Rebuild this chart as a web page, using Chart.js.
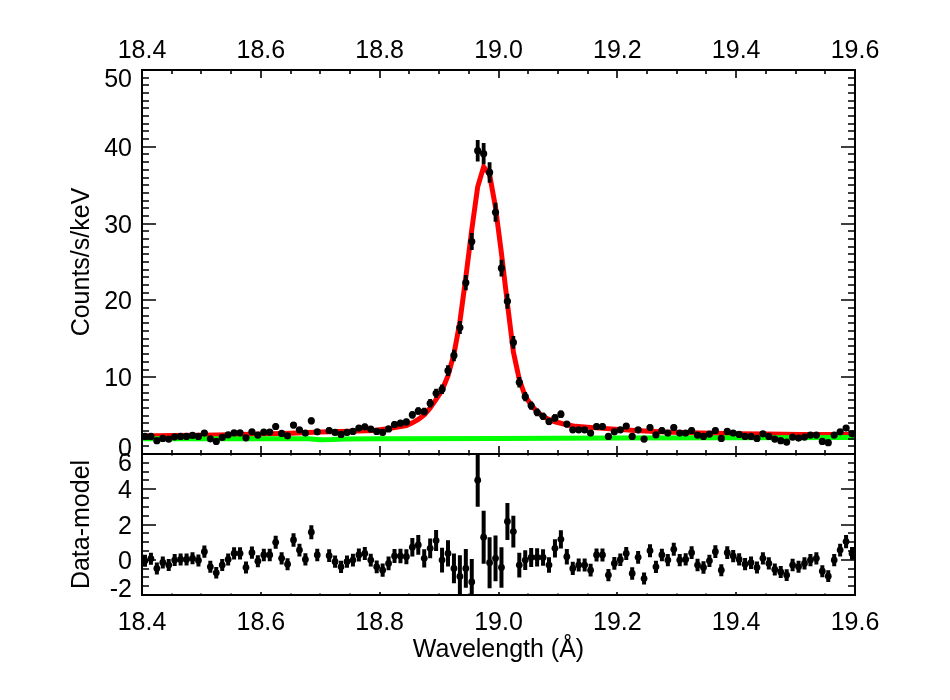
<!DOCTYPE html>
<html>
<head>
<meta charset="utf-8">
<script src="https://cdn.jsdelivr.net/npm/chart.js@4.4.1/dist/chart.umd.min.js"></script>
<style>
    body { margin: 0; background: #fff; }
    #wrap { position: relative; width: 950px; height: 700px; }
    #wrap canvas { position: absolute; left: 0; top: 0; }
</style>
</head>
<body>
<div id="wrap">
    <canvas id="residChart" width="950" height="700"></canvas>
    <canvas id="specChart" width="950" height="700"></canvas>
</div>
<script>
// Bin centres (Angstrom)
const wave = [
    18.405, 18.415, 18.425, 18.435, 18.445, 18.455, 18.465, 18.475, 18.485, 18.495,
    18.505, 18.515, 18.525, 18.535, 18.545, 18.555, 18.565, 18.575, 18.585, 18.595,
    18.605, 18.615, 18.625, 18.635, 18.645, 18.655, 18.665, 18.675, 18.685, 18.695,
    18.705, 18.715, 18.725, 18.735, 18.745, 18.755, 18.765, 18.775, 18.785, 18.795,
    18.805, 18.815, 18.825, 18.835, 18.845, 18.855, 18.865, 18.875, 18.885, 18.895,
    18.905, 18.915, 18.925, 18.935, 18.945, 18.955, 18.965, 18.975, 18.985, 18.995,
    19.005, 19.015, 19.025, 19.035, 19.045, 19.055, 19.065, 19.075, 19.085, 19.095,
    19.105, 19.115, 19.125, 19.135, 19.145, 19.155, 19.165, 19.175, 19.185, 19.195,
    19.205, 19.215, 19.225, 19.235, 19.245, 19.255, 19.265, 19.275, 19.285, 19.295,
    19.305, 19.315, 19.325, 19.335, 19.345, 19.355, 19.365, 19.375, 19.385, 19.395,
    19.405, 19.415, 19.425, 19.435, 19.445, 19.455, 19.465, 19.475, 19.485, 19.495,
    19.505, 19.515, 19.525, 19.535, 19.545, 19.555, 19.565, 19.575, 19.585, 19.595
];

// Observed spectrum (counts/s/keV), one bin is empty
const flux = [
    2.29, 2.29, 1.73, 2.03, 1.94, 2.24, 2.29, 2.29, 2.42, 2.29,
    2.72, 1.98, 1.64, 2.16, 2.50, 2.76, 2.76, 2.11, 2.89, 2.46,
    2.85, 2.85, 3.58, 2.68, 2.37, 3.76, 3.15, 2.72, 4.32, 2.89,
    null, 3.06, 2.81, 2.55, 2.81, 2.94, 3.37, 3.54, 3.24, 2.94,
    2.81, 3.26, 3.84, 4.02, 4.17, 5.10, 5.60, 5.53, 6.61, 7.91,
    8.43, 10.85, 12.84, 16.47, 22.31, 27.67, 39.5, 39.1, 36.66, 31.47,
    24.2, 19.88, 14.53, 9.34, 7.47, 6.30, 5.42, 4.90, 4.22, 4.70,
    5.18, 3.89, 3.15, 3.15, 3.15, 2.72, 3.58, 3.58, 2.29, 2.89,
    3.15, 3.63, 2.29, 3.15, 1.94, 3.45, 2.50, 3.06, 2.72, 3.45,
    2.72, 2.72, 3.06, 2.46, 2.29, 2.59, 3.06, 2.03, 2.94, 2.72,
    2.55, 2.29, 2.29, 2.03, 2.63, 2.29, 1.94, 1.73, 1.55, 2.20,
    2.07, 2.20, 2.46, 2.46, 1.64, 1.47, 2.46, 2.89, 3.37, 2.63
];

const fluxErr = [
    0.35, 0.35, 0.33, 0.34, 0.34, 0.35, 0.35, 0.35, 0.35, 0.35,
    0.36, 0.34, 0.33, 0.35, 0.35, 0.36, 0.36, 0.35, 0.37, 0.35,
    0.37, 0.37, 0.40, 0.36, 0.35, 0.41, 0.38, 0.36, 0.44, 0.37,
    null, 0.38, 0.37, 0.36, 0.37, 0.37, 0.39, 0.40, 0.38, 0.37,
    0.37, 0.39, 0.41, 0.42, 0.42, 0.47, 0.50, 0.50, 0.55, 0.60,
    0.62, 0.70, 0.75, 0.85, 1.00, 1.12, 1.40, 1.38, 1.33, 1.23,
    1.08, 0.98, 0.84, 0.67, 0.60, 0.55, 0.50, 0.48, 0.44, 0.47,
    0.49, 0.42, 0.38, 0.38, 0.38, 0.36, 0.40, 0.40, 0.35, 0.37,
    0.38, 0.40, 0.35, 0.38, 0.34, 0.39, 0.35, 0.38, 0.36, 0.39,
    0.36, 0.36, 0.38, 0.35, 0.35, 0.36, 0.38, 0.34, 0.37, 0.36,
    0.36, 0.35, 0.35, 0.34, 0.36, 0.35, 0.34, 0.33, 0.32, 0.35,
    0.34, 0.35, 0.35, 0.35, 0.33, 0.32, 0.35, 0.37, 0.39, 0.36
];

// Best-fit model (red) and continuum (green)
const modelWave = [
    18.40, 18.45, 18.50, 18.55, 18.60, 18.65, 18.70, 18.75, 18.79, 18.82,
    18.845, 18.855, 18.865, 18.875, 18.885, 18.895, 18.905, 18.915, 18.925, 18.935,
    18.945, 18.955, 18.965, 18.975, 18.985, 18.995, 19.005, 19.015, 19.025, 19.035,
    19.045, 19.055, 19.065, 19.075, 19.085, 19.095, 19.105, 19.115, 19.13, 19.17,
    19.23, 19.28, 19.34, 19.40, 19.45, 19.51, 19.60
];
const modelFlux = [
    2.35, 2.40, 2.45, 2.50, 2.60, 2.70, 2.85, 2.95, 3.06, 3.37,
    3.70, 4.05, 4.50, 5.10, 6.00, 7.10, 8.30, 10.2, 13.0, 17.2,
    23.0, 29.2, 34.8, 37.4, 36.4, 32.1, 26.1, 19.6, 13.3, 9.7,
    7.5, 6.4, 5.5, 4.9, 4.5, 4.2, 4.0, 3.8, 3.6, 3.37,
    3.06, 2.85, 2.72, 2.63, 2.59, 2.55, 2.55
];
const contWave = [18.40, 18.50, 18.60, 18.68, 18.69, 18.70, 18.72, 18.74, 18.80, 19.00, 19.20, 19.40, 19.60];
const contFlux = [1.98, 1.98, 1.99, 1.98, 1.92, 1.86, 1.88, 1.96, 2.00, 2.03, 2.07, 2.10, 2.14];

// Residuals (data - model)
const resid = [
    -0.06, 0.06, -0.49, -0.15, -0.30, -0.02, 0.02, 0.02, 0.08, -0.04,
    0.46, -0.40, -0.74, -0.30, 0.02, 0.36, 0.36, -0.44, 0.40, -0.08,
    0.27, 0.27, 0.99, 0.08, -0.25, 1.12, 0.55, 0.02, 1.56, 0.27,
    null, 0.23, -0.11, -0.40, -0.11, -0.02, 0.27, 0.36, -0.02, -0.40,
    -0.59, -0.21, 0.21, 0.21, 0.17, 0.71, 0.84, 0.08, 0.65, 1.09,
    -0.02, 0.36, -0.49, -0.95, -0.49, -1.26, 4.51, 1.28, -0.17, 0.08,
    -0.44, 2.17, 1.60, -0.30, -0.02, 0.13, 0.13, 0.13, -0.30, 0.65,
    1.16, 0.17, -0.49, -0.30, -0.30, -0.59, 0.27, 0.27, -0.87, -0.21,
    0.00, 0.36, -0.78, 0.14, -1.07, 0.51, -0.40, 0.27, -0.02, 0.59,
    -0.02, 0.02, 0.40, -0.30, -0.44, -0.06, 0.46, -0.59, 0.40, 0.21,
    0.02, -0.25, -0.17, -0.44, 0.08, -0.21, -0.55, -0.69, -0.87, -0.30,
    -0.40, -0.21, -0.02, 0.08, -0.65, -0.93, -0.02, 0.55, 1.03, 0.36
];
const residErr = [
    0.34, 0.34, 0.34, 0.34, 0.34, 0.34, 0.34, 0.34, 0.34, 0.34,
    0.35, 0.34, 0.33, 0.34, 0.34, 0.35, 0.35, 0.34, 0.35, 0.34,
    0.35, 0.35, 0.37, 0.35, 0.34, 0.38, 0.36, 0.35, 0.40, 0.35,
    null, 0.36, 0.35, 0.35, 0.35, 0.36, 0.37, 0.37, 0.36, 0.36,
    0.38, 0.39, 0.40, 0.41, 0.42, 0.52, 0.56, 0.52, 0.56, 0.60,
    0.70, 0.75, 0.85, 1.20, 1.10, 1.30, 1.50, 1.50, 1.45, 1.30,
    1.15, 1.05, 0.90, 0.70, 0.56, 0.54, 0.52, 0.47, 0.44, 0.52,
    0.52, 0.44, 0.38, 0.37, 0.37, 0.36, 0.37, 0.37, 0.35, 0.36,
    0.36, 0.37, 0.35, 0.36, 0.34, 0.37, 0.35, 0.36, 0.35, 0.37,
    0.35, 0.35, 0.36, 0.35, 0.35, 0.35, 0.36, 0.34, 0.36, 0.35,
    0.35, 0.35, 0.35, 0.34, 0.35, 0.35, 0.34, 0.34, 0.33, 0.35,
    0.34, 0.35, 0.35, 0.35, 0.34, 0.33, 0.35, 0.36, 0.38, 0.36
];

// Axis ticks and labels
const xTickValues = [18.4, 18.6, 18.8, 19.0, 19.2, 19.4, 19.6];
const xTickLabels = ['18.4', '18.6', '18.8', '19.0', '19.2', '19.4', '19.6'];
const specTickValues = [0, 10, 20, 30, 40, 50];
const specTickLabels = ['0', '10', '20', '30', '40', '50'];
const residTickValues = [-2, 0, 2, 4, 6];
const residTickLabels = ['-2', '0', '2', '4', '6'];

const FONT = '25px "Liberation Sans", Arial, Helvetica, sans-serif';

function steps(from, to, step) {
    const out = [];
    const n = Math.round((to - from) / step);
    for (let k = 0; k <= n; k++) out.push(from + k * step);
    return out;
}

function points(xs, ys) {
    return xs.map((x, i) => ({ x: x, y: ys[i] }));
}

// vertical error bar segments, split by nulls
function errorSegments(xs, ys, es) {
    const out = [];
    xs.forEach((x, i) => {
        if (ys[i] === null) return;
        out.push({ x: x, y: ys[i] - es[i] }, { x: x, y: ys[i] + es[i] }, { x: x, y: null });
    });
    return out;
}

// IDL-like frame: inward ticks on all four sides, labels drawn from the scales
const idlFrame = {
    id: 'idlFrame',
    afterDraw(chart, args, o) {
        const ctx = chart.ctx;
        const a = chart.chartArea;
        const xs = chart.scales.x;
        const ys = chart.scales.y;
        ctx.save();
        ctx.strokeStyle = '#000';
        ctx.fillStyle = '#000';
        ctx.lineCap = 'butt';

        ctx.lineWidth = 1.6;
        ctx.beginPath();
        o.xMinor.forEach(v => {
            const px = Math.round(xs.getPixelForValue(v));
            const len = o.xMajor.some(m => Math.abs(m - v) < 1e-6) ? o.xLen : o.xLen / 2;
            ctx.moveTo(px, a.top); ctx.lineTo(px, a.top + len);
            ctx.moveTo(px, a.bottom); ctx.lineTo(px, a.bottom - len);
        });
        o.yMinor.forEach(v => {
            const py = Math.round(ys.getPixelForValue(v));
            const len = o.yMajor.some(m => Math.abs(m - v) < 1e-6) ? o.yLen : o.yLen / 2;
            ctx.moveTo(a.left, py); ctx.lineTo(a.left + len, py);
            ctx.moveTo(a.right, py); ctx.lineTo(a.right - len, py);
        });
        ctx.stroke();

        ctx.lineWidth = 2;
        ctx.strokeRect(a.left, a.top, a.right - a.left, a.bottom - a.top);

        ctx.font = FONT;
        ctx.textBaseline = 'alphabetic';
        ctx.textAlign = 'center';
        const half = 9;
        if (o.xLabelSide) {
            const by = o.xLabelSide === 'top' ? a.top - 12 : a.bottom + 35;
            o.xMajor.forEach((v, i) => {
                ctx.fillText(o.xLabels[i], xs.getPixelForValue(v), by);
            });
        }
        ctx.textAlign = 'right';
        o.yMajor.forEach((v, i) => {
            let py = ys.getPixelForValue(v);
            if (v === ys.max) py += 8;
            if (v === ys.min) py -= 7;
            ctx.fillText(o.yLabels[i], a.left - 10, py + half);
        });

        ctx.textAlign = 'center';
        ctx.save();
        ctx.translate(89, (a.top + a.bottom) / 2);
        ctx.rotate(-Math.PI / 2);
        ctx.fillText(o.yTitle, 0, 0);
        ctx.restore();
        if (o.xTitle) {
            ctx.fillText(o.xTitle, (a.left + a.right) / 2, a.bottom + 62);
        }
        ctx.restore();
    }
};

const xMinorTicks = steps(18.4, 19.6, 0.05);

function baseOptions(pad, yMin, yMax, frame) {
    return {
        responsive: false,
        animation: false,
        events: [],
        layout: { padding: pad },
        scales: {
            x: { type: 'linear', min: 18.4, max: 19.6, display: false },
            y: { type: 'linear', min: yMin, max: yMax, display: false }
        },
        plugins: {
            legend: { display: false },
            tooltip: { enabled: false },
            idlFrame: frame
        }
    };
}

new Chart(document.getElementById('specChart'), {
    type: 'line',
    data: {
        datasets: [
            {
                data: points(wave, flux),
                showLine: false,
                pointRadius: 3.6,
                pointBackgroundColor: '#000',
                pointBorderWidth: 0,
                order: 0
            },
            {
                data: errorSegments(wave, flux, fluxErr),
                borderColor: '#000',
                borderWidth: 3.8,
                pointRadius: 0,
                spanGaps: false,
                clip: 0,
                order: 1
            },
            {
                data: points(contWave, contFlux),
                borderColor: '#00ff00',
                borderWidth: 5,
                pointRadius: 0,
                tension: 0,
                order: 2
            },
            {
                data: points(modelWave, modelFlux),
                borderColor: '#ff0000',
                borderWidth: 5,
                pointRadius: 0,
                tension: 0,
                order: 3
            }
        ]
    },
    options: baseOptions({ left: 142, right: 95, top: 70, bottom: 246 }, 0, 50, {
        xMajor: xTickValues, xLabels: xTickLabels, xMinor: xMinorTicks, xLen: 8,
        yMajor: specTickValues, yLabels: specTickLabels, yMinor: steps(0, 50, 1), yLen: 14,
        xLabelSide: 'top', yTitle: 'Counts/s/keV'
    }),
    plugins: [idlFrame]
});

new Chart(document.getElementById('residChart'), {
    type: 'line',
    data: {
        datasets: [
            {
                data: points(wave, resid),
                showLine: false,
                pointRadius: 3.4,
                pointBackgroundColor: '#000',
                pointBorderWidth: 0,
                order: 0
            },
            {
                data: errorSegments(wave, resid, residErr),
                borderColor: '#000',
                borderWidth: 4,
                pointRadius: 0,
                spanGaps: false,
                clip: 0,
                order: 1
            }
        ]
    },
    options: baseOptions({ left: 142, right: 95, top: 454, bottom: 105 }, -2, 6, {
        xMajor: xTickValues, xLabels: xTickLabels, xMinor: xMinorTicks, xLen: 3,
        yMajor: residTickValues, yLabels: residTickLabels, yMinor: steps(-2, 6, 0.5), yLen: 14,
        xLabelSide: 'bottom', yTitle: 'Data-model', xTitle: 'Wavelength (\u00c5)'
    }),
    plugins: [idlFrame]
});
</script>
</body>
</html>
